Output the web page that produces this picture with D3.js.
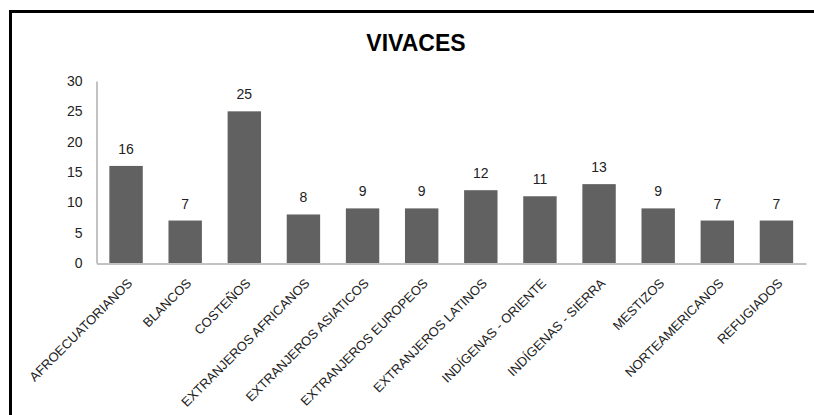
<!DOCTYPE html>
<meta charset="utf-8">
<style>
  body { margin: 0; background: #fff; }
  text { font-family: "Liberation Sans", Arial, sans-serif; }
  .axis path, .axis line { stroke: #868686; }
  .axis text { fill: #222; }
</style>
<svg width="814" height="415"></svg>
<script src="https://d3js.org/d3.v7.min.js"></script>
<script>
  var categories = ["AFROECUATORIANOS", "BLANCOS", "COSTEÑOS", "EXTRANJEROS AFRICANOS",
    "EXTRANJEROS ASIATICOS", "EXTRANJEROS EUROPEOS", "EXTRANJEROS LATINOS",
    "INDÍGENAS - ORIENTE", "INDÍGENAS - SIERRA", "MESTIZOS", "NORTEAMERICANOS", "REFUGIADOS"];
  var values = [16, 7, 25, 8, 9, 9, 12, 11, 13, 9, 7, 7];
  var yTicks = [0, 5, 10, 15, 20, 25, 30];

  var svg = d3.select("svg");

  // frame, only top and left edges are inside the picture
  svg.append("rect")
    .attr("x", 10.5).attr("y", 11.5)
    .attr("width", 900).attr("height", 500)
    .attr("fill", "none").attr("stroke", "#000").attr("stroke-width", 3);

  svg.append("text")
    .attr("x", 416).attr("y", 51)
    .attr("text-anchor", "middle")
    .attr("font-size", "23px")
    .attr("font-weight", "bold")
    .text("VIVACES");

  var x = d3.scaleBand()
    .domain(categories)
    .range([96.5, 806])
    .paddingInner(0.435)
    .paddingOuter(0.2175);

  var y = d3.scaleLinear()
    .domain([0, 30])
    .range([263, 81]);

  var yAxis = svg.append("g")
    .attr("class", "axis")
    .attr("transform", "translate(96.5,0)")
    .call(d3.axisLeft(y).tickValues(yTicks).tickSize(0).tickPadding(14));
  yAxis.selectAll("text").attr("font-size", "14px").attr("font-family", "Liberation Sans");

  svg.selectAll(".bar")
    .data(values)
    .enter().append("rect")
    .attr("class", "bar")
    .attr("x", function(d, i) { return x(categories[i]); })
    .attr("y", function(d) { return y(d); })
    .attr("width", x.bandwidth())
    .attr("height", function(d) { return y(0) - y(d); })
    .attr("fill", "#616161");

  svg.selectAll(".val")
    .data(values)
    .enter().append("text")
    .attr("class", "val")
    .attr("x", function(d, i) { return x(categories[i]) + x.bandwidth() / 2; })
    .attr("y", function(d) { return y(d) - 12; })
    .attr("text-anchor", "middle")
    .attr("font-size", "14px")
    .attr("fill", "#222")
    .text(function(d) { return d; });

  var xAxis = svg.append("g")
    .attr("class", "axis")
    .attr("transform", "translate(0,263.5)")
    .call(d3.axisBottom(x).tickSize(0).tickFormat(""));

  svg.selectAll(".cat")
    .data(categories)
    .enter().append("text")
    .attr("class", "cat")
    .attr("transform", function(d) {
      return "translate(" + (x(d) + x.bandwidth() / 2 + 7) + ",284) rotate(-45)";
    })
    .attr("text-anchor", "end")
    .attr("font-size", "13px")
    .attr("fill", "#222")
    .text(function(d) { return d; });
</script>
